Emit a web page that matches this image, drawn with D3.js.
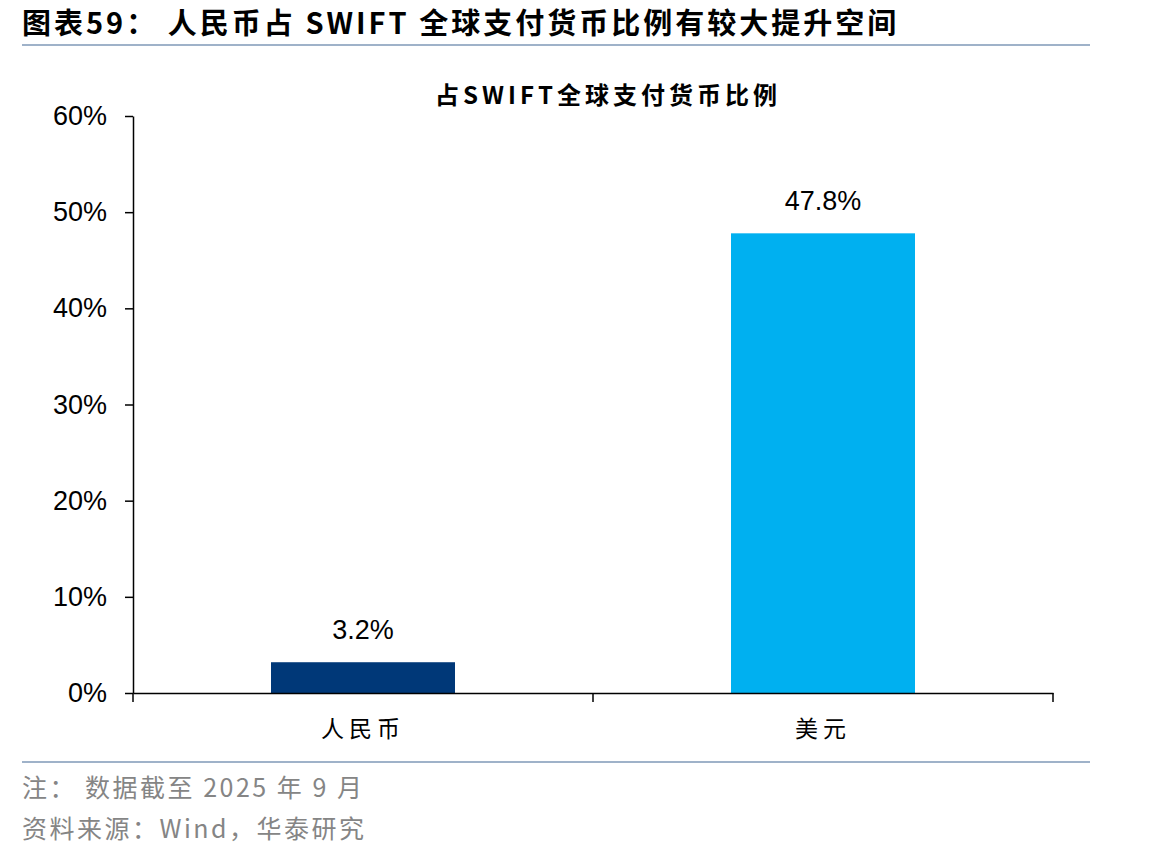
<!DOCTYPE html>
<html><head><meta charset="utf-8">
<script src="https://cdn.jsdelivr.net/npm/d3@7"></script>
<style>body{margin:0;background:#fff;}svg{display:block;}</style>
</head><body>
<svg id="c" width="1149" height="858"></svg>
<script>
const categories = ["人民币", "美元"];
const values = [3.2, 47.8];
const colors = ["#003878", "#00B0F0"];
const yTicks = [0, 10, 20, 30, 40, 50, 60];
const titleText = "图表59：  人民币占 SWIFT 全球支付货币比例有较大提升空间";
const chartTitle = "占SWIFT全球支付货币比例";
const notes = ["注：  数据截至 2025 年 9 月", "资料来源：Wind，华泰研究"];

const svg = d3.select("#c");
const cjk = "'Noto Sans CJK SC', 'Liberation Sans', Arial, sans-serif";
const latin = "'Liberation Sans', Arial, 'Noto Sans CJK SC', sans-serif";

// header
svg.append("text").attr("x", 22).attr("y", 34).attr("font-family", cjk)
  .attr("font-weight", 700).attr("font-size", 29).attr("letter-spacing", 3)
  .attr("fill", "#000").text(titleText);
svg.append("line").attr("x1", 22).attr("x2", 1090).attr("y1", 45).attr("y2", 45)
  .attr("stroke", "#9fb2c9").attr("stroke-width", 2);

svg.append("text").attr("x", 608).attr("y", 104).attr("text-anchor", "middle")
  .attr("font-family", cjk).attr("font-weight", 700).attr("font-size", 24)
  .attr("letter-spacing", 4).text(chartTitle);

const x = d3.scaleBand().domain(categories).range([133, 1053]).paddingInner(0.6).paddingOuter(0.3);
const y = d3.scaleLinear().domain([0, 60]).range([693, 116]);

svg.selectAll("rect.bar").data(values).join("rect").attr("class", "bar")
  .attr("x", (d, i) => x(categories[i])).attr("width", x.bandwidth())
  .attr("y", d => y(d)).attr("height", d => y(0) - y(d))
  .attr("fill", (d, i) => colors[i]);

svg.selectAll("text.val").data(values).join("text").attr("class", "val")
  .attr("x", (d, i) => x(categories[i]) + x.bandwidth() / 2)
  .attr("y", d => y(d) - 23).attr("text-anchor", "middle")
  .attr("font-family", latin).attr("font-size", 27).attr("fill", "#000")
  .text(d => d.toFixed(1) + "%");

// y axis
const ya = svg.append("g").attr("transform", "translate(133,0)")
  .call(d3.axisLeft(y).tickValues(yTicks).tickFormat(d => d + "%").tickSize(8).tickSizeOuter(0));
ya.select(".domain").attr("stroke", "#000").attr("stroke-width", 1.5);
ya.selectAll(".tick line").attr("stroke", "#000").attr("stroke-width", 1.5);
ya.selectAll(".tick text").attr("font-family", latin).attr("font-size", 27).attr("fill", "#000").attr("x", -26);

// x axis
const xa = svg.append("g").attr("transform", "translate(0,693)")
  .call(d3.axisBottom(x).tickSize(0).tickSizeOuter(0));
xa.select(".domain").attr("stroke", "#000").attr("stroke-width", 1.5);
xa.selectAll(".tick text").attr("font-family", cjk).attr("font-size", 23).attr("fill", "#000")
  .attr("y", 28).attr("dy", "0.71em").attr("letter-spacing", 5);
const bounds = [133, 593, 1053];
xa.selectAll("line.bt").data(bounds).join("line").attr("class", "bt")
  .attr("x1", d => d).attr("x2", d => d).attr("y1", 0).attr("y2", 9)
  .attr("stroke", "#000").attr("stroke-width", 1.5);

// footer
svg.append("line").attr("x1", 22).attr("x2", 1090).attr("y1", 762).attr("y2", 762)
  .attr("stroke", "#9fb2c9").attr("stroke-width", 2);
notes.forEach((t, i) => {
  svg.append("text").attr("x", 22).attr("y", 797 + i * 41).attr("font-family", cjk)
    .attr("font-size", 25).attr("letter-spacing", 2.5).attr("fill", "#858585").text(t);
});
</script>
</body></html>
